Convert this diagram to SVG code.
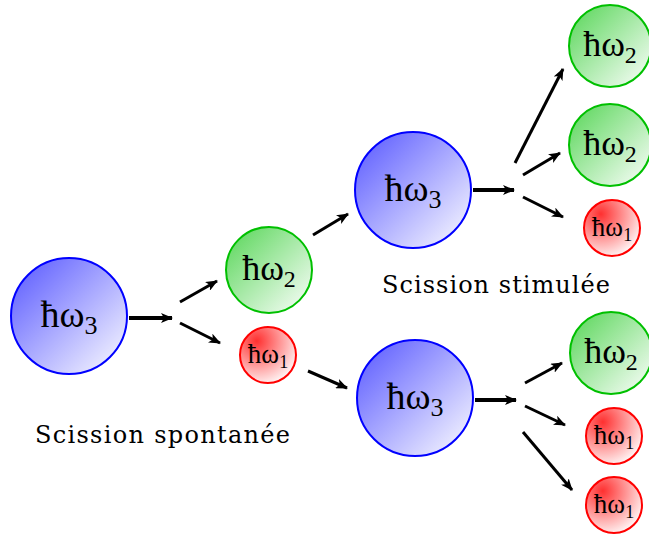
<svg xmlns="http://www.w3.org/2000/svg" width="649" height="536" viewBox="0 0 649 536">
<defs>
<linearGradient id="gb" x1="0" y1="0" x2="1" y2="1"><stop offset="0" stop-color="#5555ff"/><stop offset="1" stop-color="#ffffff"/></linearGradient>
<linearGradient id="gg" x1="0" y1="0" x2="1" y2="1"><stop offset="0" stop-color="#55d555"/><stop offset="1" stop-color="#ffffff"/></linearGradient>
<radialGradient id="gr" cx="0.3" cy="0.25" r="0.85"><stop offset="0" stop-color="#ff3030"/><stop offset="1" stop-color="#ffffff"/></radialGradient>
<marker id="ah" viewBox="0 0 12 10" refX="11" refY="5" markerWidth="12" markerHeight="10" markerUnits="userSpaceOnUse" orient="auto">
<path d="M0,0 L12,5 L0,10 L3,5 Z" fill="#000"/>
</marker>
</defs>
<style>
.b{fill:url(#gb);stroke:#0000ff;stroke-width:2}
.g{fill:url(#gg);stroke:#00c000;stroke-width:2}
.r{fill:url(#gr);stroke:#ff0000;stroke-width:2}
.t{font-family:"Liberation Serif","DejaVu Serif",serif;fill:#000;text-anchor:middle}
.tb{font-size:38px}
.tg{font-size:36px}
.tr{font-size:27px}
.lab{font-family:"DejaVu Serif","Liberation Serif",serif;font-size:24px;fill:#000}
.a{stroke:#000;stroke-width:3;fill:none;marker-end:url(#ah)}
.a2{stroke:#000;stroke-width:4;fill:none;marker-end:url(#ah)}
</style>
<g id="connectors">
<line class="a2" x1="129" y1="318" x2="172" y2="318"/>
<line class="a" x1="180" y1="302" x2="217" y2="281"/>
<line class="a" x1="180" y1="323" x2="220" y2="343"/>
<line class="a" x1="313" y1="235" x2="348" y2="214"/>
<line class="a" x1="308" y1="371" x2="347" y2="388"/>
<line class="a2" x1="473" y1="190" x2="514" y2="190"/>
<line class="a" x1="515" y1="163" x2="563" y2="69"/>
<line class="a" x1="523" y1="175" x2="560" y2="153"/>
<line class="a" x1="523" y1="197" x2="563" y2="217"/>
<line class="a2" x1="475" y1="400" x2="516" y2="400"/>
<line class="a" x1="525" y1="383" x2="562" y2="363"/>
<line class="a" x1="525" y1="406" x2="565" y2="425"/>
<line class="a" x1="523" y1="432" x2="572" y2="490"/>
</g>
<g id="n1"><circle class="b" cx="69" cy="316" r="58"/><text class="t tb" x="69" y="327">ħω<tspan font-size="26" dy="7">3</tspan></text></g>
<g id="n2"><circle class="g" cx="269" cy="270" r="43"/><text class="t tg" x="269" y="280">ħω<tspan font-size="24" dy="7">2</tspan></text></g>
<g id="n3"><circle class="r" cx="268" cy="355" r="28"/><text class="t tr" x="268" y="363">ħω<tspan font-size="18" dy="5">1</tspan></text></g>
<g id="n4"><circle class="b" cx="413" cy="190" r="58"/><text class="t tb" x="413" y="201">ħω<tspan font-size="26" dy="7">3</tspan></text></g>
<g id="n5"><circle class="b" cx="415" cy="398" r="58"/><text class="t tb" x="415" y="409">ħω<tspan font-size="26" dy="7">3</tspan></text></g>
<g id="n6"><circle class="g" cx="610" cy="46" r="41"/><text class="t tg" x="610" y="56">ħω<tspan font-size="24" dy="7">2</tspan></text></g>
<g id="n7"><circle class="g" cx="610" cy="145" r="41"/><text class="t tg" x="610" y="155">ħω<tspan font-size="24" dy="7">2</tspan></text></g>
<g id="n8"><circle class="r" cx="612" cy="228" r="28"/><text class="t tr" x="612" y="236">ħω<tspan font-size="18" dy="5">1</tspan></text></g>
<g id="n9"><circle class="g" cx="611" cy="353" r="41"/><text class="t tg" x="611" y="363">ħω<tspan font-size="24" dy="7">2</tspan></text></g>
<g id="n10"><circle class="r" cx="614" cy="436" r="28"/><text class="t tr" x="614" y="444">ħω<tspan font-size="18" dy="5">1</tspan></text></g>
<g id="n11"><circle class="r" cx="614" cy="505" r="28"/><text class="t tr" x="614" y="513">ħω<tspan font-size="18" dy="5">1</tspan></text></g>
<g id="labels">
<text class="lab" x="35" y="443" textLength="255">Scission spontanée</text>
<text class="lab" x="382" y="293" textLength="228">Scission stimulée</text>
</g>
</svg>
